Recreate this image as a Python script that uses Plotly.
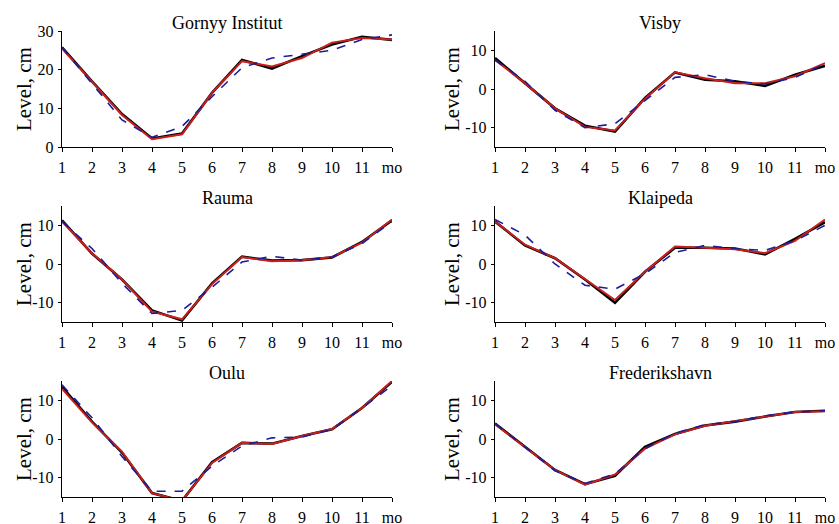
import plotly.graph_objects as go

months = [1, 2, 3, 4, 5, 6, 7, 8, 9, 10, 11, 12]
month_labels = ["1", "2", "3", "4", "5", "6", "7", "8", "9", "10", "11", "mo"]

stations = ["Gornyy Institut", "Visby", "Rauma", "Klaipeda", "Oulu", "Frederikshavn"]

gornyy_black = [25.8, 17.0, 8.5, 2.2, 3.5, 14.0, 22.5, 20.3, 23.5, 26.5, 28.5, 27.7]
gornyy_red = [25.5, 17.0, 8.3, 2.0, 3.3, 14.0, 22.2, 20.8, 23.0, 27.0, 28.2, 27.8]
gornyy_blue = [25.8, 16.5, 7.0, 2.5, 5.3, 13.0, 20.5, 23.0, 24.0, 25.0, 27.8, 29.0]

visby_black = [8.0, 1.5, -5.0, -9.5, -11.0, -2.3, 4.3, 2.4, 2.0, 0.8, 3.7, 6.0]
visby_red = [7.5, 1.5, -5.0, -9.8, -10.7, -2.5, 4.3, 2.8, 1.5, 1.5, 3.3, 6.7]
visby_blue = [7.5, 2.0, -5.5, -10.0, -9.0, -3.0, 3.0, 3.7, 2.0, 1.3, 3.0, 6.5]

rauma_black = [11.3, 2.7, -4.0, -12.0, -14.6, -5.0, 1.9, 0.9, 1.0, 1.7, 5.7, 11.3]
rauma_red = [11.0, 2.8, -4.0, -12.3, -14.3, -5.2, 1.8, 0.7, 1.0, 1.8, 5.5, 11.5]
rauma_blue = [11.0, 4.0, -5.0, -12.8, -12.0, -6.0, 0.5, 2.0, 1.0, 1.8, 5.3, 11.0]

klaipeda_black = [11.0, 4.8, 1.5, -4.0, -10.0, -2.0, 4.2, 4.2, 4.0, 2.5, 6.5, 10.8]
klaipeda_red = [11.0, 5.0, 1.5, -4.0, -9.3, -2.0, 4.5, 4.2, 3.8, 2.8, 6.0, 11.5]
klaipeda_blue = [11.5, 7.5, 0.0, -5.5, -6.5, -2.5, 3.0, 4.8, 4.0, 3.5, 6.0, 10.0]

oulu_black = [13.5, 4.5, -3.5, -14.0, -16.0, -6.0, -1.0, -1.2, 0.8, 2.5, 8.0, 14.8]
oulu_red = [13.0, 4.3, -3.3, -14.0, -16.0, -6.2, -1.0, -1.3, 0.8, 2.6, 8.0, 15.0]
oulu_blue = [14.0, 5.5, -4.5, -13.5, -13.5, -7.0, -1.8, 0.3, 0.5, 2.5, 8.0, 13.8]

fred_black = [4.0, -2.0, -8.0, -11.7, -9.5, -2.0, 1.3, 3.5, 4.5, 5.8, 7.0, 7.3]
fred_red = [3.8, -2.0, -8.0, -11.8, -9.2, -2.5, 1.2, 3.4, 4.6, 5.9, 7.0, 7.2]
fred_blue = [4.0, -2.0, -8.2, -11.5, -9.0, -2.5, 1.5, 3.7, 4.5, 6.0, 7.0, 7.3]

black_series = [gornyy_black, visby_black, rauma_black, klaipeda_black, oulu_black, fred_black]
red_series = [gornyy_red, visby_red, rauma_red, klaipeda_red, oulu_red, fred_red]
blue_series = [gornyy_blue, visby_blue, rauma_blue, klaipeda_blue, oulu_blue, fred_blue]

y_ranges = [[0, 30], [-15, 15], [-15, 15], [-15, 15], [-15, 15], [-15, 15]]
y_tickvals = [[0, 10, 20, 30], [-10, 0, 10], [-10, 0, 10], [-10, 0, 10], [-10, 0, 10], [-10, 0, 10]]
y_ticktext = [["0", "10", "20", "30"], ["-10", "0", "10"], ["-10", "0", "10"],
              ["-10", "0", "10"], ["-10", "0", "10"], ["-10", "0", "10"]]

W, H = 839, 524


def px_x(p):
    return p / W


def px_y(p):
    return 1 - p / H


x_doms = [[px_x(62), px_x(392)], [px_x(495), px_x(825)]]
y_pix = [(31, 147), (206, 322), (381, 497)]
y_doms = [[px_y(b), px_y(t)] for t, b in y_pix]

FONT = "Liberation Serif, Times New Roman, serif"
BLACK = "#000000"
RED = "#c8201e"
BLUE = "#1c1c9a"

fig = go.Figure()
annotations = []
for i, name in enumerate(stations):
    r, c = divmod(i, 2)
    n = i + 1
    xa = "x" if n == 1 else f"x{n}"
    ya = "y" if n == 1 else f"y{n}"
    fig.add_trace(go.Scatter(x=months, y=black_series[i], mode="lines",
                             line=dict(color=BLACK, width=2.6), xaxis=xa, yaxis=ya, showlegend=False))
    fig.add_trace(go.Scatter(x=months, y=red_series[i], mode="lines",
                             line=dict(color=RED, width=2.0), xaxis=xa, yaxis=ya, showlegend=False))
    fig.add_trace(go.Scatter(x=months, y=blue_series[i], mode="lines",
                             line=dict(color=BLUE, width=1.6, dash="dash"), xaxis=xa, yaxis=ya,
                             showlegend=False))
    xkey = "xaxis" if n == 1 else f"xaxis{n}"
    ykey = "yaxis" if n == 1 else f"yaxis{n}"
    fig.layout[xkey] = dict(domain=x_doms[c], anchor=ya, range=[1, 12], tickvals=months,
                            ticktext=month_labels, showline=True, linecolor="black", linewidth=1.3,
                            ticks="outside", ticklen=4, tickcolor="black", showgrid=False,
                            zeroline=False, ticklabelstandoff=1, automargin=False,
                            tickfont=dict(family=FONT, size=16, color="black"))
    fig.layout[ykey] = dict(domain=y_doms[r], anchor=xa, range=y_ranges[i], tickvals=y_tickvals[i],
                            ticktext=y_ticktext[i], showline=True, linecolor="black", linewidth=1.3,
                            ticks="outside", ticklen=3, tickcolor="black", showgrid=False,
                            zeroline=False, ticklabelstandoff=1, automargin=False,
                            tickfont=dict(family=FONT, size=16, color="black"))
    xc = (x_doms[c][0] + x_doms[c][1]) / 2
    annotations.append(dict(text=name, x=xc, y=y_doms[r][1], xref="paper", yref="paper",
                            xanchor="center", yanchor="bottom", yshift=-4, showarrow=False,
                            font=dict(family=FONT, size=18, color="black")))
    lab_x = [px_x(24), px_x(452)][c]
    annotations.append(dict(text="Level, cm", x=lab_x, y=(y_doms[r][0] + y_doms[r][1]) / 2,
                            xref="paper", yref="paper", xanchor="center", yanchor="middle",
                            textangle=-90, showarrow=False,
                            font=dict(family=FONT, size=21, color="black")))

fig.update_layout(width=W, height=H, margin=dict(l=0, r=0, t=0, b=0, pad=0, autoexpand=False),
                  paper_bgcolor="white", plot_bgcolor="white", annotations=annotations)

fig.write_html("out.html",
               config={"displayModeBar": False, "staticPlot": True},
               post_script="document.body.style.margin='0';document.body.style.overflow='hidden';")
